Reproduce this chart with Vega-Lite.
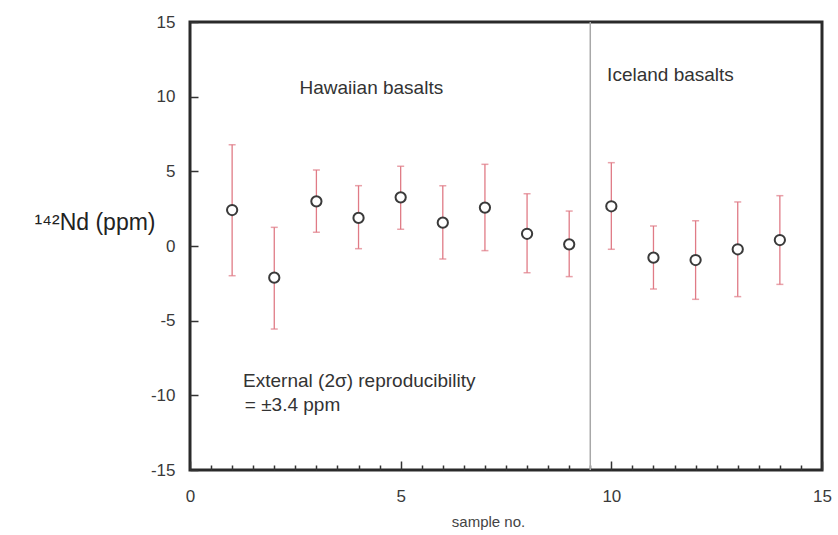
{
  "$schema": "https://vega.github.io/schema/vega-lite/v6.json",
  "width": 632,
  "height": 448,
  "autosize": {"type": "none"},
  "padding": {"left": 190, "top": 22, "right": 16, "bottom": 65},
  "background": "white",
  "config": {
    "view": {"stroke": "#2a2a2a", "strokeWidth": 3},
    "font": "Liberation Sans",
    "axis": {"grid": false, "domain": false, "labelFont": "Liberation Sans", "labelColor": "#3a3a3a", "labelFontSize": 17, "labelFlush": false, "tickColor": "#333", "tickWidth": 1.5, "titleFont": "Liberation Sans", "titleFontWeight": "normal", "titleColor": "#222"}
  },
  "datasets": {
    "pts": [
      {"sample": 1, "nd": 2.41, "lo": -1.99, "hi": 6.78},
      {"sample": 2, "nd": -2.12, "lo": -5.56, "hi": 1.25},
      {"sample": 3, "nd": 2.99, "lo": 0.92, "hi": 5.09},
      {"sample": 4, "nd": 1.88, "lo": -0.18, "hi": 4.04},
      {"sample": 5, "nd": 3.26, "lo": 1.12, "hi": 5.34},
      {"sample": 6, "nd": 1.56, "lo": -0.87, "hi": 4.04},
      {"sample": 7, "nd": 2.57, "lo": -0.31, "hi": 5.47},
      {"sample": 8, "nd": 0.82, "lo": -1.79, "hi": 3.5},
      {"sample": 9, "nd": 0.11, "lo": -2.05, "hi": 2.34},
      {"sample": 10, "nd": 2.66, "lo": -0.22, "hi": 5.58},
      {"sample": 11, "nd": -0.78, "lo": -2.88, "hi": 1.34},
      {"sample": 12, "nd": -0.94, "lo": -3.57, "hi": 1.69},
      {"sample": 13, "nd": -0.22, "lo": -3.39, "hi": 2.95},
      {"sample": 14, "nd": 0.4, "lo": -2.57, "hi": 3.37}
    ],
    "labels": [
      {"x": 2.6, "y": 10.55, "text": "Hawaiian basalts"},
      {"x": 9.9, "y": 11.45, "text": "Iceland basalts"},
      {"x": 1.26, "y": -9.05, "text": "External (2σ) reproducibility"},
      {"x": 1.3, "y": -10.65, "text": "= ±3.4 ppm"}
    ]
  },
  "resolve": {"axis": {"x": "independent"}},
  "layer": [
    {
      "data": {"values": [{"x": 9.5, "y": -15, "y2": 15}]},
      "mark": {"type": "rule", "color": "#a8a8a8", "strokeWidth": 1.5},
      "encoding": {
        "x": {"field": "x", "type": "quantitative", "scale": {"domain": [0, 15], "nice": false},
          "axis": {"orient": "bottom", "values": [0, 5, 10, 15], "tickSize": -9, "labelPadding": 27, "title": "sample no.", "titleFontSize": 15, "titleColor": "#444", "titleX": 298, "titleY": 56, "titleAlign": "center", "titleBaseline": "alphabetic"}},
        "y": {"field": "y", "type": "quantitative", "scale": {"domain": [-15, 15], "nice": false},
          "axis": {"values": [-15, -10, -5, 0, 5, 10, 15], "tickSize": -8, "labelPadding": 23, "labelExpr": "replace(datum.label, '−', '-')", "title": "¹⁴²Nd (ppm)", "titleAngle": 0, "titleFontSize": 23, "titleAlign": "right", "titleBaseline": "middle", "titleX": -35, "titleY": 200}},
        "y2": {"field": "y2"}
      }
    },
    {
      "data": {"name": "pts"},
      "mark": {"type": "rule", "color": "#e07b86", "strokeWidth": 1.3},
      "encoding": {
        "x": {"field": "sample", "type": "quantitative", "axis": {"orient": "bottom", "values": [0.5,1,1.5,2,2.5,3,3.5,4,4.5,5.5,6,6.5,7,7.5,8,8.5,9,9.5,10.5,11,11.5,12,12.5,13,13.5,14,14.5], "labels": false, "tickSize": -5, "title": null}},
        "y": {"field": "lo", "type": "quantitative"},
        "y2": {"field": "hi"}
      }
    },
    {
      "data": {"name": "pts"},
      "mark": {"type": "tick", "color": "#e07b86", "orient": "horizontal", "size": 7, "thickness": 1.5},
      "encoding": {
        "x": {"field": "sample", "type": "quantitative", "axis": null},
        "y": {"field": "lo", "type": "quantitative"}
      }
    },
    {
      "data": {"name": "pts"},
      "mark": {"type": "tick", "color": "#e07b86", "orient": "horizontal", "size": 7, "thickness": 1.5},
      "encoding": {
        "x": {"field": "sample", "type": "quantitative", "axis": null},
        "y": {"field": "hi", "type": "quantitative"}
      }
    },
    {
      "data": {"name": "pts"},
      "mark": {"type": "point", "shape": "circle", "filled": false, "fill": "white", "fillOpacity": 1, "stroke": "#3a3a3a", "strokeWidth": 2, "size": 105, "opacity": 1},
      "encoding": {
        "x": {"field": "sample", "type": "quantitative", "axis": null},
        "y": {"field": "nd", "type": "quantitative"}
      }
    },
    {
      "data": {"name": "labels"},
      "mark": {"type": "text", "align": "left", "baseline": "middle", "fontSize": 19, "color": "#333", "font": "Liberation Sans"},
      "encoding": {
        "x": {"field": "x", "type": "quantitative", "axis": null},
        "y": {"field": "y", "type": "quantitative"},
        "text": {"field": "text"}
      }
    }
  ]
}
